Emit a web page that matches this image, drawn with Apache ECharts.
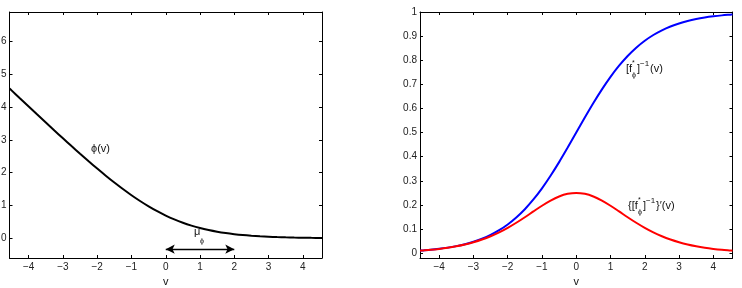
<!DOCTYPE html>
<html>
<head>
<meta charset="utf-8">
<script src="https://cdn.jsdelivr.net/npm/echarts@6/dist/echarts.min.js"></script>
<style>
  html, body { margin: 0; padding: 0; background: #fff; }
  #chart { width: 742px; height: 288px; }
</style>
</head>
<body>
<div id="chart"></div>
<script>
// sample points along v (shared by both panels)
const vValues = [-4.56, -4.5, -4.25, -4, -3.75, -3.5, -3.25, -3, -2.75, -2.5, -2.25, -2, -1.75, -1.5, -1.25, -1, -0.75, -0.5, -0.25, 0,
  0.25, 0.5, 0.75, 1, 1.25, 1.5, 1.75, 2, 2.25, 2.5, 2.75, 3, 3.25, 3.5, 3.75, 4, 4.25, 4.5, 4.56]

// left panel: phi(v)
const phiValues = [4.570, 4.511, 4.264, 4.018, 3.773, 3.530, 3.288, 3.049, 2.812, 2.579, 2.350, 2.127, 1.910, 1.701, 1.502, 1.313, 1.137, 0.974, 0.826, 0.693,
  0.576, 0.474, 0.387, 0.313, 0.252, 0.201, 0.160, 0.127, 0.100, 0.079, 0.062, 0.049, 0.038, 0.030, 0.023, 0.018, 0.014, 0.011, 0.010]

// right panel: inverse link (blue) and its derivative (red)
const inverseValues = [0.0103, 0.0110, 0.0140, 0.0180, 0.0230, 0.0293, 0.0373, 0.0474, 0.0601, 0.0759, 0.0953, 0.1192, 0.1480, 0.1824, 0.2227, 0.2689, 0.3208, 0.3775, 0.4378, 0.5,
  0.5622, 0.6225, 0.6792, 0.7311, 0.7773, 0.8176, 0.8520, 0.8808, 0.9047, 0.9241, 0.9399, 0.9526, 0.9627, 0.9707, 0.9770, 0.9820, 0.9860, 0.9890, 0.9897]
const derivValues = [0.0102, 0.0109, 0.0138, 0.0177, 0.0225, 0.0285, 0.0359, 0.0452, 0.0565, 0.0701, 0.0862, 0.1050, 0.1261, 0.1491, 0.1731, 0.1966, 0.2179, 0.2350, 0.2461, 0.25,
  0.2461, 0.2350, 0.2179, 0.1966, 0.1731, 0.1491, 0.1261, 0.1050, 0.0862, 0.0701, 0.0565, 0.0452, 0.0359, 0.0285, 0.0225, 0.0177, 0.0138, 0.0109, 0.0102]

// tick labels
const xTicks = [-4, -3, -2, -1, 0, 1, 2, 3, 4]
const phiTicks = [0, 1, 2, 3, 4, 5, 6]
const probTicks = [0, 0.1, 0.2, 0.3, 0.4, 0.5, 0.6, 0.7, 0.8, 0.9, 1]

const FONT = '"Liberation Sans", Arial, Helvetica, sans-serif'
const minus = v => String(v).replace('-', '\u2212')

const zip = (xs, ys) => xs.map((x, i) => [x, ys[i]])

const frameLine = { show: true, onZero: false, lineStyle: { color: '#000', width: 1 } }

const xAxisFor = (grid, pos, withLabels) => ({
  type: 'value', gridIndex: grid, position: pos,
  min: -4.56, max: 4.56,
  name: withLabels ? 'v' : '', nameLocation: 'middle', nameGap: 12,
  nameTextStyle: { fontFamily: FONT, fontSize: 11, color: '#111' },
  axisLine: frameLine,
  axisTick: { show: true, inside: true, length: 3, customValues: xTicks, lineStyle: { color: '#000' } },
  axisLabel: { show: withLabels, customValues: xTicks, margin: 4, formatter: minus,
    fontFamily: FONT, fontSize: 10, color: '#222' },
  splitLine: { show: false }
})

const yAxisFor = (grid, pos, withLabels, min, max, ticks) => ({
  type: 'value', gridIndex: grid, position: pos,
  min: min, max: max,
  axisLine: frameLine,
  axisTick: { show: true, inside: true, length: 3, customValues: ticks, lineStyle: { color: '#000' } },
  axisLabel: { show: withLabels, customValues: ticks, margin: 3,
    fontFamily: FONT, fontSize: 10, color: '#222' },
  splitLine: { show: false }
})

const txt = (text, x, y, size) => ({
  type: 'text', x: x, y: y, silent: true,
  style: { text: text, fontFamily: FONT, fontSize: size, fill: '#111', verticalAlign: 'middle', align: 'left' }
})

const chart = echarts.init(document.getElementById('chart'))
chart.setOption({
  animation: false,
  grid: [
    { left: 9.5, right: 420, top: 12, bottom: 30, containLabel: false, outerBoundsMode: 'none' },
    { left: 420, right: 9.5, top: 12, bottom: 30, containLabel: false, outerBoundsMode: 'none' }
  ],
  xAxis: [
    xAxisFor(0, 'bottom', true), xAxisFor(0, 'top', false),
    xAxisFor(1, 'bottom', true), xAxisFor(1, 'top', false)
  ],
  yAxis: [
    yAxisFor(0, 'left', true, -0.6, 6.9, phiTicks), yAxisFor(0, 'right', false, -0.6, 6.9, phiTicks),
    yAxisFor(1, 'left', true, -0.02, 1, probTicks), yAxisFor(1, 'right', false, -0.02, 1, probTicks)
  ],
  series: [
    {
      name: 'phi', type: 'line', xAxisIndex: 0, yAxisIndex: 0,
      data: zip(vValues, phiValues), smooth: 0.3, showSymbol: false,
      lineStyle: { color: '#000', width: 2 },
      markLine: {
        silent: true, symbol: ['arrow', 'arrow'], symbolSize: [7, 9],
        label: { show: false },
        lineStyle: { color: '#000', width: 1.3, type: 'solid' },
        data: [[{ coord: [0, -0.33] }, { coord: [2, -0.33] }]]
      }
    },
    {
      name: 'inverse', type: 'line', xAxisIndex: 2, yAxisIndex: 2,
      data: zip(vValues, inverseValues), smooth: 0.3, showSymbol: false,
      lineStyle: { color: '#0000ff', width: 2 }
    },
    {
      name: 'derivative', type: 'line', xAxisIndex: 2, yAxisIndex: 2,
      data: zip(vValues, derivValues), smooth: 0.3, showSymbol: false,
      lineStyle: { color: '#ff0000', width: 2 }
    }
  ],
  graphic: [
    // phi(v)
    txt('\u03d5(v)', 91, 149, 11),
    // mu_phi
    txt('\u03bc', 194, 232, 11),
    txt('\u03d5', 200, 241, 7),
    // [f*_phi]^-1(v)
    txt('[f', 626, 69, 11),
    txt('*', 632, 63, 7),
    txt('\u03d5', 632, 75, 7),
    txt(']', 637, 69, 11),
    txt('\u22121', 640, 64, 8),
    txt('(v)', 650, 69, 11),
    // {[f*_phi]^-1}'(v)
    txt('{[f', 628, 206, 11),
    txt('*', 638, 200, 7),
    txt('\u03d5', 638, 212, 7),
    txt(']', 643, 206, 11),
    txt('\u22121', 646, 201, 8),
    txt('}\u2032(v)', 656, 206, 11)
  ]
})
</script>
</body>
</html>
